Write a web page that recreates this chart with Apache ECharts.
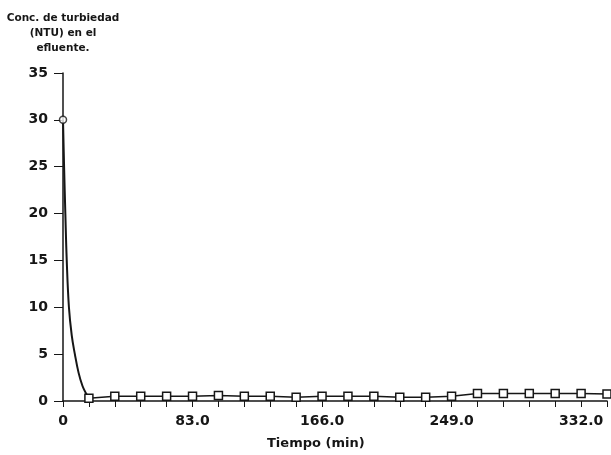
<!DOCTYPE html>
<html>
<head>
<meta charset="utf-8">
<script src="https://cdn.jsdelivr.net/npm/echarts@6/dist/echarts.min.js"></script>
<style>
html,body{margin:0;padding:0;background:#fff;}
#chart{width:611px;height:455px;}
</style>
</head>
<body>
<div id="chart"></div>
<script>
// Measured samples: time (min) and effluent turbidity (NTU)
var sampleTime = [0, 16.6, 33.2, 49.8, 66.4, 83.0, 99.6, 116.2, 132.8, 149.4, 166.0, 182.6, 199.2, 215.8, 232.4, 249.0, 265.6, 282.2, 298.8, 315.4, 332.0, 348.6];
var sampleNTU  = [30, 0.3, 0.5, 0.5, 0.5, 0.5, 0.6, 0.5, 0.5, 0.4, 0.5, 0.5, 0.5, 0.4, 0.4, 0.5, 0.8, 0.8, 0.8, 0.8, 0.8, 0.75];
// Drawn decay curve between the first two samples
var curveTime = [0, 0.7, 1.5, 2.4, 3.8, 5.6, 7.6, 10.0, 12.5, 14.8, 16.6];
var curveNTU  = [30, 25, 20, 15, 10, 7, 5, 3, 1.6, 0.8, 0.3];
// Axis tick labels
var xTickLabels = ['0', '83.0', '166.0', '249.0', '332.0'];
var yTitle = 'Conc. de turbiedad\n(NTU) en el\nefluente.';
var xTitle = 'Tiempo (min)';

var ink = '#161616';
var font = '"DejaVu Sans", Verdana, sans-serif';

var curveData = curveTime.map(function (t, i) { return [t, curveNTU[i]]; });
var lineData = sampleTime.slice(1).map(function (t, i) { return [t, sampleNTU[i + 1]]; });
var circleData = [[sampleTime[0], sampleNTU[0]]];

var chart = echarts.init(document.getElementById('chart'), null, {renderer: 'canvas'});
chart.setOption({
  backgroundColor: '#ffffff',
  animation: false,
  grid: {left: 63, right: 4, top: 73, bottom: 54, containLabel: false},
  title: {
    text: yTitle,
    left: 58, top: 6,
    textAlign: 'center',
    textStyle: {fontFamily: font, fontSize: 10.5, fontWeight: 'bold', color: ink, lineHeight: 15}
  },
  graphic: [{
    type: 'text',
    left: 316 - 49, top: 437,
    style: {text: xTitle, font: 'bold 13px "DejaVu Sans", sans-serif', fill: ink}
  }],
  xAxis: {
    type: 'value',
    min: 0, max: 348.6, interval: 16.6,
    axisLine: {show: true, onZero: false, lineStyle: {color: ink, width: 1.5}},
    axisTick: {show: true, length: 6, lineStyle: {color: ink, width: 1}},
    splitLine: {show: false},
    axisLabel: {
      margin: 13,
      fontFamily: font, fontSize: 14, fontWeight: 'bold', color: ink,
      formatter: function (v) {
        var k = Math.round(v / 16.6);
        if (k % 5 !== 0) return '';
        return xTickLabels[k / 5] || '';
      }
    }
  },
  yAxis: {
    type: 'value',
    min: 0, max: 35, interval: 5,
    axisLine: {show: true, onZero: false, lineStyle: {color: ink, width: 1.5}},
    axisTick: {show: true, length: 9, lineStyle: {color: ink, width: 1}},
    splitLine: {show: false},
    axisLabel: {margin: 15, fontFamily: font, fontSize: 14, fontWeight: 'bold', color: ink}
  },
  series: [
    {
      type: 'line',
      data: curveData,
      smooth: 0.4,
      showSymbol: false,
      lineStyle: {color: ink, width: 2},
      z: 2
    },
    {
      type: 'line',
      data: lineData,
      showSymbol: true,
      symbol: 'rect',
      symbolSize: 8,
      clip: false,
      lineStyle: {color: ink, width: 1.5},
      itemStyle: {color: '#ffffff', borderColor: ink, borderWidth: 1.5},
      z: 3
    },
    {
      type: 'scatter',
      data: circleData,
      symbol: 'circle',
      symbolSize: 7,
      clip: false,
      itemStyle: {color: '#ffffff', borderColor: ink, borderWidth: 1.5},
      z: 4
    }
  ]
});
</script>
</body>
</html>
